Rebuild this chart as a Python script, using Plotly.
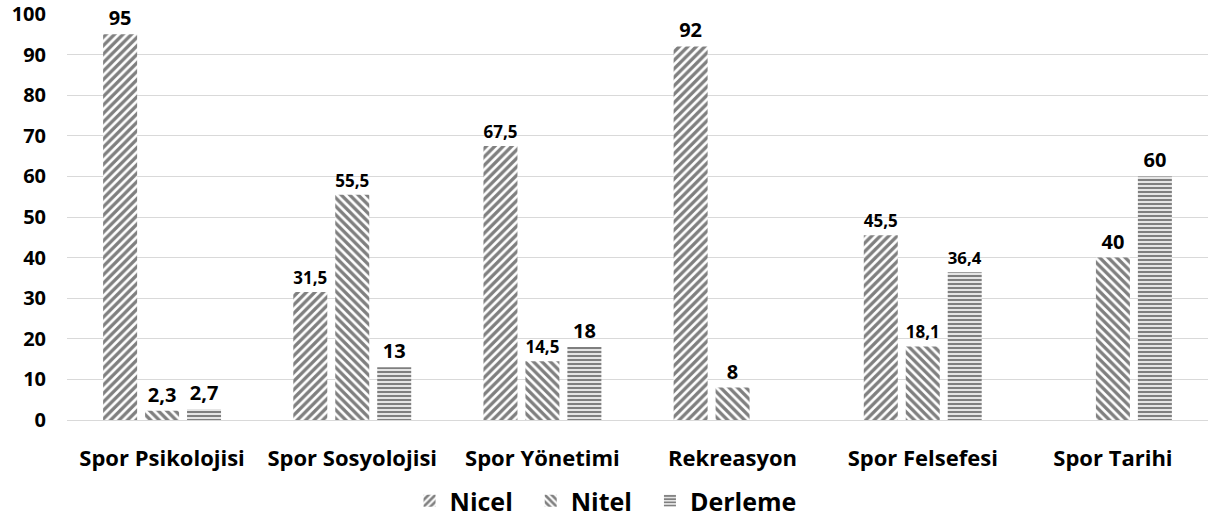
import plotly.graph_objects as go

categories = ["Spor Psikolojisi", "Spor Sosyolojisi", "Spor Yönetimi",
              "Rekreasyon", "Spor Felsefesi", "Spor Tarihi"]
nicel = [95, 31.5, 67.5, 92, 45.5, None]
nitel = [2.3, 55.5, 14.5, 8, 18.1, 40]
derleme = [2.7, 13, 18, None, 36.4, 60]
y_ticks = [0, 10, 20, 30, 40, 50, 60, 70, 80, 90, 100]
series_names = ["Nicel", "Nitel", "Derleme"]

FONT = "Open Sans"
NB = "\u00a0"
series = [(series_names[0] + NB * 2, nicel, "/"),
          (series_names[1] + NB * 2, nitel, "\\"),
          (series_names[2], derleme, "-")]

fig = go.Figure()
for name, vals, shape in series:
    fig.add_trace(go.Bar(
        name=name, x=categories, y=vals,
        texttemplate="<b>%{y}</b>", textposition="outside",
        textfont=dict(family=FONT, size=20, color="black"),
        cliponaxis=False,
        marker=dict(color="white", line=dict(width=0),
                    pattern=dict(shape=shape, fgcolor="black", bgcolor="white",
                                 size=6 if shape != "-" else 4,
                                 solidity=0.55 if shape != "-" else 0.6)),
    ))

fig.update_layout(
    width=1208, height=524,
    margin=dict(l=67, r=0, t=14, b=104),
    paper_bgcolor="white", plot_bgcolor="white",
    barmode="group", bargap=0.338, bargroupgap=0.19,
    separators=",.",
    font=dict(family=FONT, color="black"),
    showlegend=True,
    legend=dict(orientation="h", x=0.472, xanchor="center", y=-0.2, yanchor="middle",
                font=dict(family=FONT, size=25, color="black", weight="bold"),
                itemwidth=30, tracegroupgap=0),
)
fig.update_xaxes(tickfont=dict(family=FONT, size=22, weight="bold"), showgrid=False,
                 showline=False, ticks="", ticklabelstandoff=23)
fig.update_yaxes(range=[0, 100], tickvals=y_ticks, ticklabeloverflow="allow",
                 tickfont=dict(family=FONT, size=20, weight="bold"),
                 showgrid=True, gridcolor="#d9d9d9", gridwidth=1,
                 zeroline=True, zerolinecolor="#d9d9d9", zerolinewidth=1,
                 showline=False, ticks="", ticklabelstandoff=20)

fig.write_html("out.html", config={"displayModeBar": False},
               post_script="document.body.style.margin='0';")
